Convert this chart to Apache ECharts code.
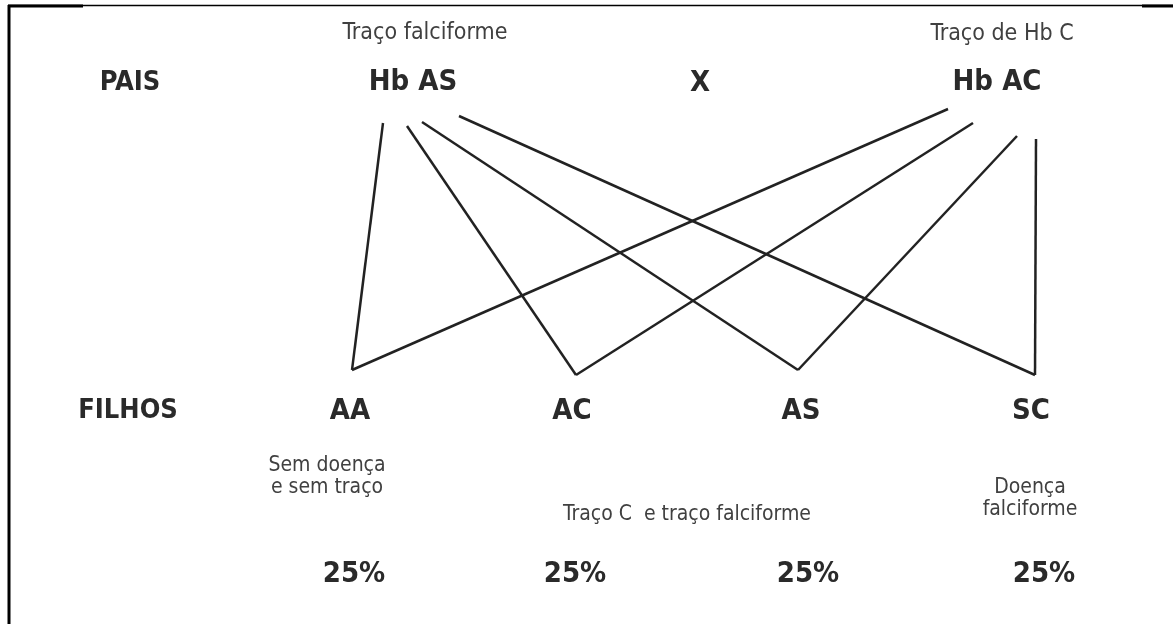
<!DOCTYPE html>
<html>
<head>
<meta charset="utf-8">
<script src="https://cdn.jsdelivr.net/npm/echarts@6/dist/echarts.min.js"></script>
<style>
  html, body { margin: 0; padding: 0; background: #fff; }
  #chart { width: 1173px; height: 624px; }
</style>
</head>
<body>
<div id="chart"></div>
<script>
// crossing scheme: Hb AS x Hb AC
var rowLabels = ['PAIS', 'FILHOS'];
var parentNames = ['Hb AS', 'X', 'Hb AC'];
var parentTraits = ['Traço falciforme', 'Traço de Hb C'];
var childNames = ['AA', 'AC', 'AS', 'SC'];
var childNotes = ['Sem doença\ne sem traço', 'Traço C  e traço falciforme', 'Doença\nfalciforme'];
var childShares = [25, 25, 25, 25];

// diagram coordinates (x, y in pixels of the scheme)
var rowPos = [[130, 83], [128, 411]];
var parentPos = [[413, 82], [700, 83], [997, 82]];
var traitPos = [[425, 33], [1002, 34]];
var childPos = [[350, 411], [572, 411], [801, 411], [1031, 411]];
var notePos = [[327, 477], [687, 515], [1030, 499]];
var sharePos = [[354, 574], [575, 574], [808, 574], [1044, 574]];

// line ends under each parent, one per child
var fromAS = [[383, 123], [407, 126], [422, 122], [459, 116]];
var fromAC = [[948, 109], [973, 123], [1017, 136], [1036, 139]];
var childApex = [[352, 370], [576, 375], [798, 370], [1035, 375]];

var fontCond = "'Liberation Sans Narrow', 'DejaVu Sans Condensed', 'Noto Sans', sans-serif";

function pts(names, pos) {
    var out = [];
    for (var i = 0; i < names.length; i++) {
        out.push({ name: names[i], value: pos[i] });
    }
    return out;
}

function textSeries(data, size, weight, color, lh) {
    return {
        type: 'scatter',
        symbolSize: 0,
        silent: true,
        itemStyle: { opacity: 1 },
        data: data,
        label: {
            show: true,
            position: 'inside',
            formatter: '{b}',
            fontFamily: fontCond,
            fontSize: size,
            fontWeight: weight,
            color: color,
            opacity: 1,
            lineHeight: lh || size,
            align: 'center'
        }
    };
}

var links = [];
for (var i = 0; i < childNames.length; i++) {
    links.push({ coords: [fromAS[i], childApex[i]] });
    links.push({ coords: [fromAC[i], childApex[i]] });
}

var shareLabels = childShares.map(function (v) { return v + '%'; });

var myChart = echarts.init(document.getElementById('chart'));
var option = {
    animation: false,
    backgroundColor: '#fff',
    grid: { left: 0, right: 0, top: 0, bottom: 0 },
    xAxis: { type: 'value', min: 0, max: 1173, show: false },
    yAxis: { type: 'value', min: 0, max: 624, inverse: true, show: false },
    graphic: [
        { type: 'line', shape: { x1: 9, y1: 5, x2: 9, y2: 624 }, style: { stroke: '#000', lineWidth: 3 } },
        { type: 'line', shape: { x1: 8, y1: 5.5, x2: 1173, y2: 5.5 }, style: { stroke: '#000', lineWidth: 1.5 } },
        { type: 'line', shape: { x1: 8, y1: 6, x2: 83, y2: 6 }, style: { stroke: '#000', lineWidth: 3 } },
        { type: 'line', shape: { x1: 1142, y1: 6, x2: 1173, y2: 6 }, style: { stroke: '#000', lineWidth: 3 } }
    ],
    series: [
        {
            type: 'lines',
            coordinateSystem: 'cartesian2d',
            silent: true,
            data: links,
            lineStyle: { color: '#222', width: 2.5, opacity: 1 }
        },
        textSeries(pts(rowLabels, rowPos), 27, 'bold', '#2a2a2a'),
        textSeries(pts(parentNames, parentPos), 29, 'bold', '#2a2a2a'),
        textSeries(pts(parentTraits, traitPos), 23, 'normal', '#404040'),
        textSeries(pts(childNames, childPos), 29, 'bold', '#2a2a2a'),
        textSeries(pts(childNotes, notePos), 21, 'normal', '#404040', 22),
        textSeries(pts(shareLabels, sharePos), 29, 'bold', '#2a2a2a')
    ]
};
myChart.setOption(option);
</script>
</body>
</html>
